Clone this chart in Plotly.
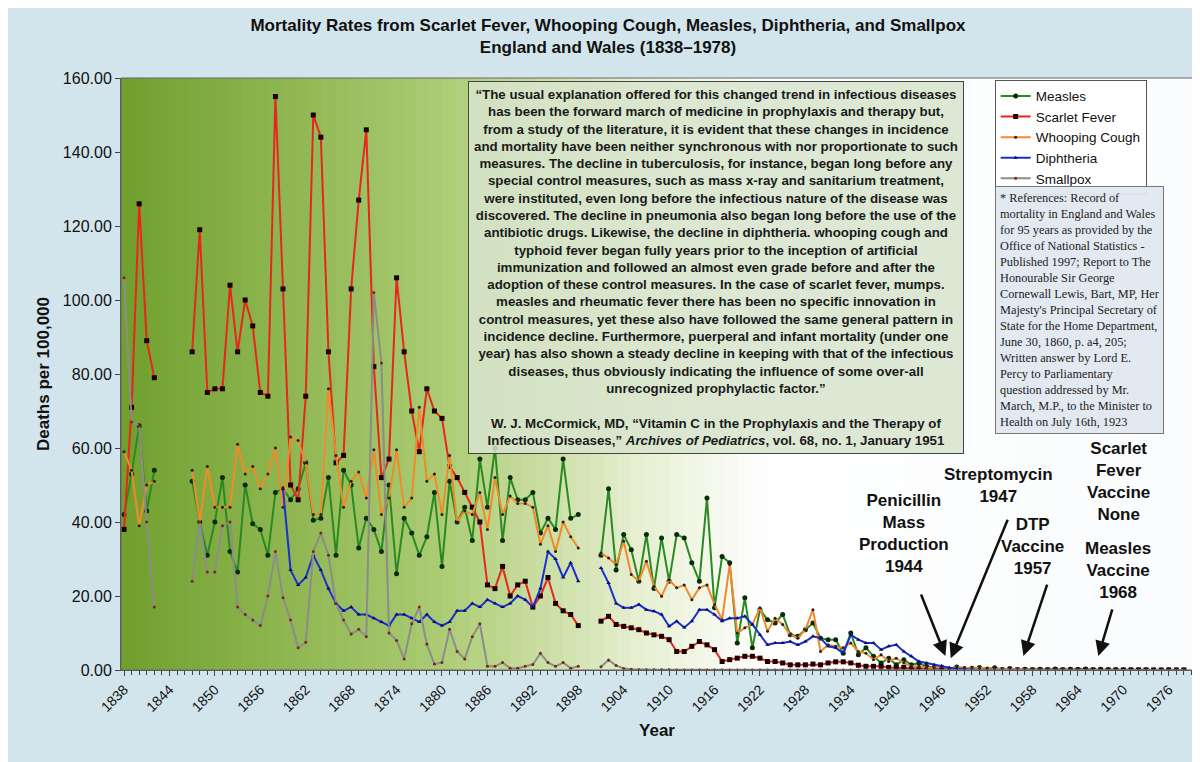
import plotly.graph_objects as go

years = list(range(1838, 1979))

# segment 1: 1838-1842, segment 2: 1847-1898, segment 3: 1901-1978
measles_s1 = [42, 53, 66, 43, 54]
measles_s2 = [51, 40, 31, 40, 52, 32, 26.5, 50, 39.5, 38, 31, 48, 49, 46, 49, 56, 40.5, 41, 52, 31,
              54, 50, 33, 41, 38, 32, 50, 26, 41, 37, 31, 36, 48, 28,
              51, 40, 44, 35, 57, 44, 60, 35, 52, 46, 46, 48, 37, 41, 38, 57, 41, 42]
measles_s3 = [31, 49, 27, 36.6, 32.5, 24, 36.6, 22, 35.7, 24, 36.6, 35.7, 29, 24, 46.5, 16.8, 30.7, 29, 7.3, 19.5,
              6, 16.3, 13.6, 12.7, 15, 9.5, 9.1, 10.9, 12.7, 8.6, 8.2, 8.2, 4.5, 10, 4.1, 6, 3.7, 1.9, 3.2, 1.4,
              2.8, 1.4, 1.9, 1.0, 0.6, 0.8, 0.3, 0.8, 0.4, 0.5, 0.7, 0.3, 0.6, 0.1, 0.4, 0.1, 0.2, 0.1, 0.2, 0.07,
              0.3, 0.1, 0.2, 0.15, 0.25, 0.1, 0.2, 0.1, 0.05, 0.09, 0.05, 0.04, 0.05, 0.03, 0.03, 0.04, 0.03, 0.02]

scarlet_s1 = [38, 71, 126, 89, 79]
scarlet_s2 = [86, 119, 75, 76, 76, 104, 86, 100, 93, 75, 74, 155, 103, 50, 46, 74, 150, 144, 86, 56,
              58, 103, 127, 146, 82, 52, 57, 106, 86, 70, 59, 76, 70, 68, 55, 52, 48,
              44, 40, 23, 22, 28, 20, 23, 24, 17, 20, 25, 18, 16, 15, 12]
scarlet_s3 = [13.2, 14.5, 12.3, 11.8, 11.4, 10.9, 10, 9.5, 9.1, 8.2, 5, 5, 6.4, 7.7, 6.8, 5.5, 2.3, 2.8, 3.2, 3.7,
              3.7, 3.2, 2.3, 2.3, 1.9, 1.4, 1.4, 1.4, 1.6, 1.4, 1.9, 2.2, 2.2, 1.9, 1.3, 1.0, 1.0, 1.0, 0.7, 0.7,
              0.7, 0.5, 0.4, 0.3, 0.2, 0.2, 0.1, 0.1, 0.05, 0.05, 0.03, 0.02, 0.02, 0.01, 0.01, 0.01, 0, 0, 0, 0,
              0, 0, 0, 0, 0, 0, 0, 0, 0, 0, 0, 0, 0, 0, 0, 0, 0, 0]

whooping_s1 = [59, 54, 39, 50, 51]
whooping_s2 = [54, 40, 55, 44, 44, 44, 61, 53, 55, 49, 53, 60, 44, 63, 62, 56, 42, 42, 76, 58,
               44, 51, 53.5, 46.5, 59.5, 42, 46.5, 59.5, 44, 46.5, 71, 51, 53, 42, 58, 40, 43,
               42, 48, 38, 52, 42, 47, 45, 45, 44, 34, 39, 32, 40, 36, 33]
whooping_s3 = [31.6, 30.3, 28.5, 34.8, 25.8, 24, 29.4, 22.6, 19.9, 24.4, 22.2, 23, 19, 22.2, 23, 17.7, 13.6, 28.5, 10, 11.4,
               12.3, 16.8, 10.5, 14, 12.3, 9.5, 8.6, 10.9, 16.3, 5, 6.8, 6.4, 6, 7.3, 5, 4.5, 2.8, 4.1, 2.3, 3.2,
               1.9, 1.0, 1.0, 0.7, 0.6, 1.0, 0.4, 0.8, 0.6, 0.4, 0.6, 0.4, 0.3, 0.3, 0.2, 0.1, 0.1, 0.05, 0.06, 0.07,
               0.05, 0.04, 0.03, 0.03, 0.02, 0.02, 0.02, 0.01, 0.01, 0.01, 0.01, 0.01, 0.01, 0.01, 0.01, 0.01, 0.01, 0.01]

diphtheria_s2 = [None] * 12 + [49, 27, 23, 25, 31, 27, 22, 18, 16, 17, 15, 15, 14, 13, 12, 15, 15, 14, 13, 15,
                               13, 12, 13, 16, 16, 18, 17, 19, 18, 17, 18, 20, 19, 17, 22, 32, 30, 25, 29, 24]
diphtheria_s3 = [27.6, 23.5, 18, 16.8, 16.8, 17.7, 16.3, 15.9, 15, 11.8, 13.2, 11.5, 13.2, 16.3, 16.3, 15, 13.2, 14, 14, 14.5,
                 12.3, 9.5, 6.8, 7.3, 7.3, 7.7, 6.8, 7.7, 9.1, 8.6, 6.4, 6, 4.5, 9.5, 8.2, 7.3, 7.3, 5.5, 6.4, 6.8,
                 5, 3.7, 2.3, 1.9, 1.4, 1.0, 0.6, 0.4, 0.2, 0.1, 0.08, 0.05, 0.03, 0.02, 0.01, 0.01, 0, 0, 0, 0,
                 0, 0, 0, 0, 0, 0, 0, 0, 0, 0, 0, 0, 0, 0, 0, 0, 0, 0]

smallpox_s1 = [106, 67, 66, 40, 17]
smallpox_s2 = [24, 40, 26.5, 26.5, 39, 40, 17, 15, 13.5, 12, 20, 32, 19.5, 13.5, 6, 7.5, 32, 37, 31, 18,
               13.5, 9.7, 11, 9, 102, 83, 10, 8, 3, 12.5, 17, 7, 1.6, 2, 11, 5, 3, 9, 12.5,
               1, 1, 2, 0.5, 0.5, 1, 1.5, 4.5, 2, 1, 2, 0.5, 1]
smallpox_s3 = [0.9, 2.7, 1.2, 0.4, 0.2, 0.1, 0.1, 0.05, 0.05, 0.05] + [0] * 68


def full(s1, s2, s3):
    s1 = s1 if s1 else [None] * 5
    return s1 + [None] * 4 + s2 + [None] * 2 + s3


series = [
    ("Measles", full(measles_s1, measles_s2, measles_s3), "#2a8a22", "circle", 5, "#0d2a0d"),
    ("Scarlet Fever", full(scarlet_s1, scarlet_s2, scarlet_s3), "#e8261c", "square", 5, "#1a0000"),
    ("Whooping Cough", full(whooping_s1, whooping_s2, whooping_s3), "#f08a2a", "circle", 3, "#222222"),
    ("Diphtheria", full(None, diphtheria_s2, diphtheria_s3), "#1a2fd0", "triangle-up", 4, "#101060"),
    ("Smallpox", full(smallpox_s1, smallpox_s2, smallpox_s3), "#8c8c8c", "circle", 3, "#7a2a10"),
]

fig = go.Figure()
for name, vals, col, sym, sz, mcol in series:
    fig.add_trace(go.Scatter(
        x=years, y=vals, name=name, mode="lines+markers", connectgaps=False,
        line=dict(color=col, width=2),
        marker=dict(symbol=sym, size=sz, color=mcol, line=dict(width=0)),
    ))


# plot-area gradient: dark green on the left fading to white on the right
def mix(c1, c2, t):
    return "rgb(%d,%d,%d)" % tuple(int(a + (b - a) * t) for a, b in zip(c1, c2))


stops = [(0.0, (112, 160, 46)), (0.3, (172, 204, 116)), (0.48, (230, 239, 208)),
         (0.6, (255, 255, 255)), (1.0, (250, 252, 253))]
shapes = []
n = 80
for i in range(n):
    t = (i + 0.5) / n
    for (p0, c0), (p1, c1) in zip(stops, stops[1:]):
        if p0 <= t <= p1:
            col = mix(c0, c1, (t - p0) / (p1 - p0))
            break
    shapes.append(dict(type="rect", xref="paper", yref="paper", x0=i / n, x1=(i + 1) / n + 0.002,
                       y0=0, y1=1, fillcolor=col, line=dict(width=0), layer="below"))
shapes.append(dict(type="rect", xref="paper", yref="paper", x0=0, x1=1, y0=0, y1=1,
                   line=dict(color="#666", width=1), layer="above"))

quote = ("<b>“The usual explanation offered for this changed trend in infectious diseases<br>"
         "has been the forward march of medicine in prophylaxis and therapy but,<br>"
         "from a study of the literature, it is evident that these changes in incidence<br>"
         "and mortality have been neither synchronous with nor proportionate to such<br>"
         "measures. The decline in tuberculosis, for instance, began long before any<br>"
         "special control measures, such as mass x-ray and sanitarium treatment,<br>"
         "were instituted, even long before the infectious nature of the disease was<br>"
         "discovered. The decline in pneumonia also began long before the use of the<br>"
         "antibiotic drugs. Likewise, the decline in diphtheria. whooping cough and<br>"
         "typhoid fever began fully years prior to the inception of artificial<br>"
         "immunization and followed an almost even grade before and after the<br>"
         "adoption of these control measures. In the case of scarlet fever, mumps.<br>"
         "measles and rheumatic fever there has been no specific innovation in<br>"
         "control measures, yet these also have followed the same general pattern in<br>"
         "incidence decline. Furthermore, puerperal and infant mortality (under one<br>"
         "year) has also shown a steady decline in keeping with that of the infectious<br>"
         "diseases, thus obviously indicating the influence of some over-all<br>"
         "unrecognized prophylactic factor.”<br><br>"
         "W. J. McCormick, MD, “Vitamin C in the Prophylaxis and the Therapy of<br>"
         "Infectious Diseases,” <i>Archives of Pediatrics</i>, vol. 68, no. 1, January 1951</b>")

refs = ("* References: Record of<br>mortality in England and Wales<br>for 95 years as provided by the<br>"
        "Office of National Statistics -<br>Published 1997; Report to The<br>Honourable Sir George<br>"
        "Cornewall Lewis, Bart, MP, Her<br>Majesty's Principal Secretary of<br>State for the Home Department,<br>"
        "June 30, 1860, p. a4, 205;<br>Written answer by Lord E.<br>Percy to Parliamentary<br>"
        "question addressed by Mr.<br>March, M.P., to the Minister to<br>Health on July 16th, 1923")

ev_font = dict(family="Arial", size=17, color="#111")
annotations = [
    dict(xref="paper", yref="paper", x=0.555, y=0.995, xanchor="center", yanchor="top", text=quote,
         showarrow=False, font=dict(family="Arial", size=13.3, color="#1a1a1a"), align="center",
         bgcolor="rgba(215,228,205,0.85)", bordercolor="#444", borderwidth=1, borderpad=5),
    dict(xref="paper", yref="paper", x=0.815, y=0.818, xanchor="left", yanchor="top", text=refs,
         showarrow=False, font=dict(family="Liberation Serif", size=12.3, color="#222"), align="left",
         bgcolor="rgba(225,232,240,0.95)", bordercolor="#777", borderwidth=1, borderpad=4),
    dict(x=1941, y=37, text="<b>Penicillin<br>Mass<br>Production<br>1944</b>", showarrow=False, font=ev_font),
    dict(x=1953.5, y=50, text="<b>Streptomycin<br>1947</b>", showarrow=False, font=ev_font),
    dict(x=1958, y=33.5, text="<b>DTP<br>Vaccine<br>1957</b>", showarrow=False, font=ev_font),
    dict(x=1969.3, y=51, text="<b>Scarlet<br>Fever<br>Vaccine<br>None</b>", showarrow=False, font=ev_font),
    dict(x=1969.3, y=26.8, text="<b>Measles<br>Vaccine<br>1968</b>", showarrow=False, font=ev_font),
]
for (hx, hy, tx, ty) in [(1946.5, 3.8, 1943.2, 20.8), (1947.2, 3.2, 1954.8, 41),
                         (1956.8, 3.8, 1960, 23.5), (1966.7, 3.8, 1968.6, 16.8)]:
    annotations.append(dict(x=hx, y=hy, ax=tx, ay=ty, axref="x", ayref="y", text="",
                            showarrow=True, arrowhead=2, arrowsize=1.2, arrowwidth=2.5, arrowcolor="#111"))

fig.update_layout(
    width=1200, height=762,
    margin=dict(l=113, r=15, t=70, b=100),
    paper_bgcolor="#d3e5ec", plot_bgcolor="white",
    title=dict(text="<b>Mortality Rates from Scarlet Fever, Whooping Cough, Measles, Diphtheria, and Smallpox<br>"
                    "England and Wales (1838–1978)</b>",
               x=0.5, y=0.97, yanchor="top", font=dict(family="Arial", size=17, color="#111")),
    font=dict(family="Arial", color="#111"),
    shapes=shapes, annotations=annotations,
    legend=dict(x=0.815, y=0.997, xanchor="left", yanchor="top", bgcolor="white",
                bordercolor="#555", borderwidth=1, font=dict(size=13.5), tracegroupgap=0,
                itemwidth=30, entrywidth=170),
    xaxis=dict(range=[1837.6, 1979.2], tickmode="linear", tick0=1838, dtick=6, tickangle=-45,
               ticks="outside", ticklen=5, minor=dict(dtick=1, ticks="outside", ticklen=4),
               showgrid=False, showline=True, linecolor="#555", zeroline=False,
               tickfont=dict(size=14, color="#111"),
               title=dict(text="<b>Year</b>", font=dict(size=17), standoff=10)),
    yaxis=dict(range=[0, 160], dtick=20, tickformat=".2f", showgrid=False, showline=True,
               linecolor="#555", ticks="outside", ticklen=5, zeroline=False,
               tickfont=dict(size=16, color="#111"),
               title=dict(text="<b>Deaths per 100,000</b>", font=dict(size=17), standoff=8)),
)

fig.write_html("out.html")
